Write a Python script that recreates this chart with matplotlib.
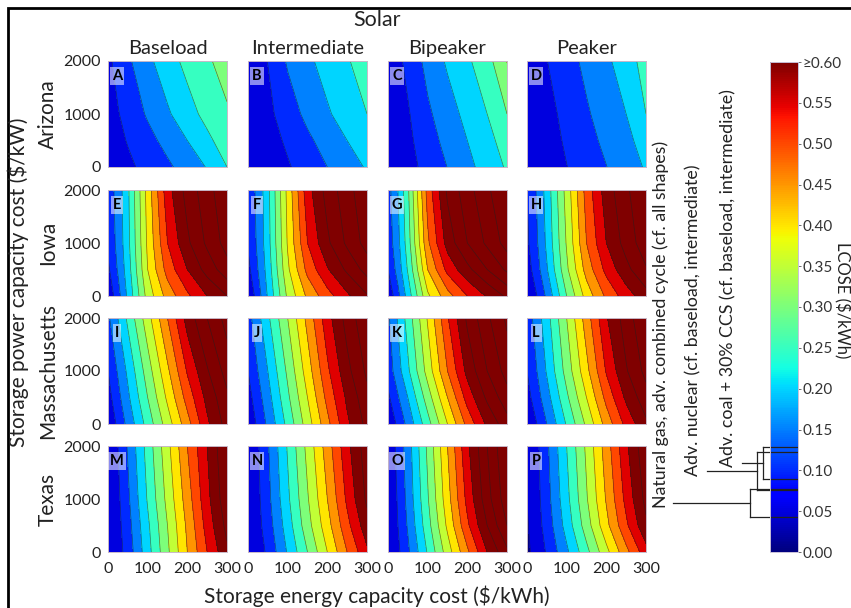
import numpy as np
import matplotlib
matplotlib.use('Agg')
import matplotlib.pyplot as plt
from matplotlib.colors import Normalize
from matplotlib.cm import ScalarMappable
from matplotlib.patches import Rectangle

plt.rcParams['font.family'] = ['Lato', 'DejaVu Sans']

# axes of every panel
energy_cost = [0, 25, 50, 100, 150, 200, 250, 300]   # $/kWh
power_cost = [0, 500, 1000, 2000]                    # $/kW
states = ['Arizona', 'Iowa', 'Massachusetts', 'Texas']
shapes = ['Baseload', 'Intermediate', 'Bipeaker', 'Peaker']
letters = 'ABCDEFGHIJKLMNOP'

# LCOSE ($/kWh), rows follow power_cost, columns energy_cost
arizona_baseload = [[0.065, 0.077, 0.090, 0.115, 0.141, 0.171, 0.203, 0.250],
                    [0.073, 0.088, 0.103, 0.134, 0.166, 0.200, 0.239, 0.275],
                    [0.080, 0.097, 0.117, 0.156, 0.193, 0.231, 0.265, 0.294],
                    [0.090, 0.115, 0.141, 0.188, 0.229, 0.264, 0.293, 0.320]]
arizona_intermediate = [[0.050, 0.061, 0.073, 0.095, 0.122, 0.150, 0.178, 0.205],
                        [0.058, 0.068, 0.079, 0.108, 0.140, 0.171, 0.200, 0.225],
                        [0.065, 0.077, 0.088, 0.125, 0.163, 0.194, 0.222, 0.250],
                        [0.075, 0.088, 0.101, 0.156, 0.190, 0.219, 0.246, 0.272]]
arizona_bipeaker = [[0.055, 0.070, 0.083, 0.116, 0.151, 0.186, 0.221, 0.256],
                    [0.060, 0.076, 0.089, 0.128, 0.166, 0.200, 0.236, 0.270],
                    [0.065, 0.082, 0.095, 0.141, 0.179, 0.214, 0.250, 0.300],
                    [0.075, 0.090, 0.112, 0.166, 0.207, 0.242, 0.280, 0.352]]
arizona_peaker = [[0.050, 0.062, 0.074, 0.099, 0.124, 0.149, 0.177, 0.205],
                  [0.055, 0.067, 0.078, 0.107, 0.134, 0.161, 0.189, 0.218],
                  [0.060, 0.073, 0.083, 0.115, 0.144, 0.172, 0.200, 0.250],
                  [0.070, 0.085, 0.099, 0.131, 0.162, 0.190, 0.227, 0.270]]

iowa_baseload = [[0.060, 0.130, 0.210, 0.370, 0.470, 0.540, 0.600, 0.650],
                 [0.090, 0.155, 0.225, 0.400, 0.520, 0.600, 0.670, 0.730],
                 [0.110, 0.165, 0.235, 0.410, 0.550, 0.640, 0.710, 0.770],
                 [0.120, 0.170, 0.240, 0.420, 0.580, 0.670, 0.730, 0.790]]
iowa_intermediate = [[0.055, 0.125, 0.205, 0.360, 0.460, 0.530, 0.590, 0.645],
                     [0.085, 0.150, 0.220, 0.390, 0.515, 0.595, 0.660, 0.720],
                     [0.105, 0.160, 0.230, 0.405, 0.550, 0.640, 0.710, 0.770],
                     [0.115, 0.165, 0.235, 0.415, 0.580, 0.670, 0.730, 0.790]]
iowa_bipeaker = [[0.060, 0.135, 0.220, 0.390, 0.480, 0.550, 0.605, 0.660],
                 [0.100, 0.170, 0.255, 0.450, 0.565, 0.635, 0.700, 0.760],
                 [0.120, 0.185, 0.275, 0.490, 0.620, 0.700, 0.760, 0.820],
                 [0.130, 0.200, 0.290, 0.520, 0.660, 0.730, 0.790, 0.850]]
iowa_peaker = [[0.050, 0.100, 0.160, 0.300, 0.420, 0.510, 0.575, 0.630],
               [0.075, 0.130, 0.195, 0.340, 0.470, 0.565, 0.635, 0.695],
               [0.090, 0.145, 0.210, 0.355, 0.500, 0.600, 0.670, 0.730],
               [0.100, 0.155, 0.220, 0.370, 0.520, 0.625, 0.690, 0.750]]

massachusetts_baseload = [[0.060, 0.110, 0.165, 0.270, 0.375, 0.480, 0.590, 0.670],
                          [0.080, 0.135, 0.190, 0.300, 0.410, 0.520, 0.615, 0.690],
                          [0.100, 0.155, 0.210, 0.325, 0.440, 0.555, 0.645, 0.720],
                          [0.140, 0.200, 0.260, 0.380, 0.500, 0.620, 0.700, 0.770]]
massachusetts_intermediate = [[0.060, 0.110, 0.160, 0.265, 0.375, 0.485, 0.590, 0.665],
                              [0.080, 0.130, 0.180, 0.290, 0.400, 0.515, 0.610, 0.685],
                              [0.100, 0.150, 0.200, 0.310, 0.425, 0.540, 0.635, 0.710],
                              [0.130, 0.185, 0.240, 0.350, 0.465, 0.580, 0.670, 0.740]]
massachusetts_bipeaker = [[0.060, 0.110, 0.165, 0.280, 0.400, 0.515, 0.610, 0.680],
                          [0.090, 0.145, 0.200, 0.325, 0.450, 0.570, 0.660, 0.730],
                          [0.120, 0.180, 0.240, 0.370, 0.500, 0.615, 0.700, 0.770],
                          [0.140, 0.205, 0.270, 0.405, 0.545, 0.660, 0.740, 0.810]]
massachusetts_peaker = [[0.050, 0.100, 0.150, 0.255, 0.360, 0.470, 0.565, 0.640],
                        [0.080, 0.130, 0.180, 0.290, 0.400, 0.515, 0.610, 0.680],
                        [0.100, 0.150, 0.205, 0.320, 0.435, 0.555, 0.645, 0.715],
                        [0.120, 0.175, 0.230, 0.350, 0.475, 0.595, 0.675, 0.745]]

texas_baseload = [[0.050, 0.080, 0.120, 0.230, 0.340, 0.450, 0.550, 0.640],
                  [0.050, 0.085, 0.130, 0.240, 0.350, 0.460, 0.570, 0.665],
                  [0.050, 0.090, 0.140, 0.255, 0.365, 0.475, 0.585, 0.685],
                  [0.055, 0.100, 0.155, 0.270, 0.385, 0.500, 0.600, 0.700]]
texas_intermediate = [[0.050, 0.075, 0.110, 0.205, 0.300, 0.400, 0.500, 0.590],
                      [0.050, 0.085, 0.125, 0.225, 0.330, 0.430, 0.535, 0.630],
                      [0.050, 0.090, 0.135, 0.240, 0.345, 0.450, 0.560, 0.660],
                      [0.050, 0.095, 0.145, 0.255, 0.365, 0.475, 0.585, 0.680]]
texas_bipeaker = [[0.050, 0.090, 0.140, 0.255, 0.375, 0.490, 0.600, 0.690],
                  [0.050, 0.100, 0.155, 0.280, 0.410, 0.540, 0.650, 0.750],
                  [0.055, 0.105, 0.165, 0.295, 0.430, 0.565, 0.680, 0.780],
                  [0.060, 0.115, 0.175, 0.310, 0.450, 0.590, 0.700, 0.800]]
texas_peaker = [[0.040, 0.070, 0.105, 0.190, 0.285, 0.385, 0.485, 0.580],
                [0.045, 0.080, 0.120, 0.220, 0.325, 0.435, 0.540, 0.640],
                [0.050, 0.085, 0.130, 0.235, 0.345, 0.455, 0.565, 0.665],
                [0.050, 0.090, 0.140, 0.250, 0.360, 0.475, 0.590, 0.690]]

lcose = [[arizona_baseload, arizona_intermediate, arizona_bipeaker, arizona_peaker],
         [iowa_baseload, iowa_intermediate, iowa_bipeaker, iowa_peaker],
         [massachusetts_baseload, massachusetts_intermediate,
          massachusetts_bipeaker, massachusetts_peaker],
         [texas_baseload, texas_intermediate, texas_bipeaker, texas_peaker]]

# LCOE of conventional plants, marked beside the colour bar ($/kWh)
gas_range = [0.043, 0.077]
nuclear_range = [0.076, 0.123]
coal_range = [0.090, 0.129]

W, H = 851, 608


def box(x0, y0, w, h):
    # pixel box (top-left origin) -> figure fraction
    return [x0 / W, 1 - (y0 + h) / H, w / W, h / H]


fig = plt.figure(figsize=(W / 100, H / 100), dpi=100)
norm = Normalize(0, 0.6)
cmap = plt.get_cmap('jet')
levels = np.arange(0, 1.0001, 0.05)
# each band takes the colour of its lower contour level
band_colors = [cmap(norm(lv)) for lv in levels[:-1]]

col_x = [108, 248, 388, 527]
row_y = [61, 190, 318, 446]
pw, ph = 119, 106

for i in range(4):
    for j in range(4):
        ax = fig.add_axes(box(col_x[j], row_y[i], pw, ph))
        z = np.array(lcose[i][j])
        ax.contourf(energy_cost, power_cost, z, levels=levels, colors=band_colors)
        ax.contour(energy_cost, power_cost, z, levels=levels, colors='#202020',
                   linewidths=0.5, alpha=0.6)
        ax.set_xlim(0, 300)
        ax.set_ylim(0, 2000)
        ax.set_xticks([0, 100, 200, 300])
        ax.set_yticks([0, 1000, 2000])
        ax.tick_params(length=0, labelsize=11.5, colors='#222222')
        ax.tick_params(axis='y', pad=5)
        ax.tick_params(axis='x', pad=7)
        if j > 0:
            ax.set_yticklabels([])
        if i < 3:
            ax.set_xticklabels([])
        for s in ax.spines.values():
            s.set_color('#c8b8c8')
            s.set_linewidth(0.7)
        ax.text(0.076, 0.86, letters[i * 4 + j], transform=ax.transAxes,
                ha='center', va='center', fontsize=10.5, fontweight='bold',
                color='black',
                bbox=dict(boxstyle='square,pad=0.12', fc='white', ec='none', alpha=0.55))
        if i == 0:
            ax.set_title(shapes[j], fontsize=14.5, pad=5, color='#222222')
    fig.text(48 / W, 1 - (row_y[i] + ph / 2) / H, states[i], rotation=90,
             ha='center', va='center', fontsize=15, color='#222222')

fig.text(377 / W, 1 - 20 / H, 'Solar', ha='center', va='center', fontsize=15.5,
         color='#222222')
fig.text(18 / W, 1 - 282 / H, 'Storage power capacity cost ($/kW)', rotation=90,
         ha='center', va='center', fontsize=15, color='#222222')
fig.text(377 / W, 1 - 596 / H, 'Storage energy capacity cost ($/kWh)',
         ha='center', va='center', fontsize=15, color='#222222')

# colour bar
cax = fig.add_axes(box(770, 62, 28, 490))
cb = fig.colorbar(ScalarMappable(norm=norm, cmap=cmap), cax=cax)
ticks = np.arange(0, 0.6001, 0.05)
cb.set_ticks(ticks)
cb.set_ticklabels(['%.2f' % t for t in ticks[:-1]] + ['≥0.60'])
cax.tick_params(labelsize=11, length=2, width=0.5, colors='#333333', pad=1.5)
cb.outline.set_edgecolor('#c8c0d8')
cb.outline.set_linewidth(0.7)
fig.text(842 / W, 1 - 300 / H, 'LCOSE ($/kWh)', rotation=-90, ha='center',
         va='center', fontsize=12, color='#222222')

# brackets from the plant labels to the colour bar
tr = cax.get_yaxis_transform()
px = lambda x: (x - 770) / 28.0
marks = [(gas_range, 750, 673, 661, 'Natural gas, adv. combined cycle (cf. all shapes)'),
         (nuclear_range, 757, 707, 693, 'Adv. nuclear (cf. baseload, intermediate)'),
         (coal_range, 763, 742, 728, 'Adv. coal + 30% CCS (cf. baseload, intermediate)')]
for rng, xb, xs, xt, label in marks:
    lo, hi = rng
    mid = (lo + hi) / 2
    kw = dict(transform=tr, color='#222222', lw=0.9, clip_on=False)
    cax.plot([px(xb), px(797)], [hi, hi], **kw)
    cax.plot([px(xb), px(797)], [lo, lo], **kw)
    cax.plot([px(xb), px(xb)], [lo, hi], **kw)
    cax.plot([px(xs), px(xb)], [mid, mid], **kw)
    cax.text(px(xt), mid - 0.006, label, transform=tr, rotation=90, ha='center',
             va='bottom', fontsize=12.8, color='#222222')

# frame around the figure
fig.add_artist(Rectangle((8 / W, -0.1), 1.1, 1.1 - 8 / H, transform=fig.transFigure,
                         fill=False, lw=2, ec='black'))

plt.savefig('out.png', dpi=100)
